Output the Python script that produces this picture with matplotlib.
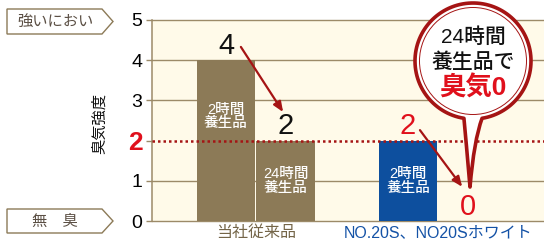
import matplotlib.pyplot as plt
from matplotlib.patches import Polygon, Circle, PathPatch
from matplotlib.path import Path
import numpy as np

plt.rcParams['font.family'] = ['Liberation Sans', 'Noto Sans CJK JP', 'DejaVu Sans']

# --- data -------------------------------------------------------------------
values = [4, 2, 2, 0]
bar_texts = ["2時間\n養生品", "24時間\n養生品", "2時間\n養生品", ""]
value_texts = ["4", "2", "2", "0"]
group_labels = ["当社従来品", "NO.20S、NO20Sホワイト"]
y_ticks = [0, 1, 2, 3, 4, 5]
y_label = "臭気強度"
top_box = "強いにおい"
bottom_box = "無\u3000臭"
balloon_lines = ["24時間", "養生品で", "臭気0"]

# --- style ------------------------------------------------------------------
BG = "#fffae9"
BROWN = "#8c7a57"
BLUE = "#0d4f9e"
RED = "#e0101c"
DARK_RED = "#a51414"
GRID = "#9c8a68"
x_pos = [0, 1, 3.06, 4.06]
bar_colors = [BROWN, BROWN, BLUE, BLUE]
value_colors = ["#111111", "#111111", RED, RED]

fig = plt.figure(figsize=(5.44, 2.46), dpi=100)
ax = fig.add_axes([152 / 544, 25 / 246, 392 / 544, 201 / 246])
ax.set_facecolor(BG)
ax.set_xlim(-1.244, 5.345)
ax.set_ylim(0, 5)

for y in y_ticks:
    if y == 2:
        continue
    ax.axhline(y, color=GRID, lw=1.0, zorder=1, clip_on=False)
ax.axhline(2, color=DARK_RED, lw=1.8, ls=(0, (1, 1.2)), zorder=4)

ax.bar(x_pos, values, width=0.98, color=bar_colors, zorder=2)

for x, v, t in zip(x_pos, values, bar_texts):
    if t:
        ax.text(x, v / 2 if v < 3 else 2.6, t, ha="center", va="center",
                color="white", fontsize=10.5, fontweight="medium",
                linespacing=1.0, zorder=5)

for x, v, t, c in zip(x_pos, values, value_texts, value_colors):
    ax.text(x, v + 0.36, t, ha="center", va="center", color=c,
            fontsize=21, zorder=5)

# arrows between value labels
arrow_pairs = [(0, 1, (0.25, 0.33), (-0.04, 0.71)), (2, 3, (0.2, 0.26), (-0.09, 0.85))]
for i, j, s, e in arrow_pairs:
    ax.annotate("", xy=(x_pos[j] + e[0], values[j] + e[1]),
                xytext=(x_pos[i] + s[0], values[i] + s[1]),
                arrowprops=dict(arrowstyle="-|>,head_length=0.6,head_width=0.25",
                                color=DARK_RED, lw=1.6, shrinkA=0, shrinkB=0),
                zorder=6)

for s in ["top", "right", "bottom"]:
    ax.spines[s].set_visible(False)
ax.spines["left"].set_color(GRID)
ax.spines["left"].set_linewidth(1.1)
ax.set_yticks(y_ticks)
ax.set_yticklabels([str(t) for t in y_ticks])
ax.tick_params(axis="y", length=4, width=1, color=GRID, pad=3, labelsize=14)
for lbl in ax.get_yticklabels():
    if lbl.get_text() == "2":
        lbl.set_color(RED)
        lbl.set_fontweight("bold")
        lbl.set_fontsize(19)
ax.set_xticks([(x_pos[0] + x_pos[1]) / 2, (x_pos[2] + x_pos[3]) / 2])
ax.set_xticklabels(group_labels, fontsize=11.5)
ax.tick_params(axis="x", length=0, pad=3)
ax.get_xticklabels()[0].set_color("#746548")
ax.get_xticklabels()[1].set_color("#1452a6")

fig.text(100 / 544, 1 - 123 / 246, y_label, rotation=90, ha="center",
         va="center", fontsize=11, color="#111111")

# --- overlay in pixel coordinates ---------------------------------------------
ov = fig.add_axes([0, 0, 1, 1], zorder=10)
ov.set_xlim(0, 544)
ov.set_ylim(246, 0)
ov.axis("off")
ov.patch.set_alpha(0)


def tag(y0, y1, text):
    ym = (y0 + y1) / 2
    ov.add_patch(Polygon([(7, y0), (102, y0), (113, ym), (102, y1), (7, y1)],
                         closed=True, facecolor="white", edgecolor=BROWN, lw=1))
    ov.text(55, ym + 0.5, text, ha="center", va="center", fontsize=11,
            color="#5b4f44")


tag(9, 34, top_box)
tag(209, 233, bottom_box)

# speech balloon
cx, cy, r = 473, 61, 58
tip = (470, 187)
a1, a2 = np.deg2rad(81), np.deg2rad(99)
t = np.linspace(a1, a2 - 2 * np.pi, 120)
arc = np.column_stack([cx + r * np.cos(t), cy + r * np.sin(t)])
right = (cx + r * np.cos(a1), cy + r * np.sin(a1))
verts = [tip, (tip[0] + 4, 140), right] + [tuple(p) for p in arc] + [(tip[0] - 4, 140), tip, tip]
codes = [Path.MOVETO, Path.CURVE3, Path.CURVE3] + [Path.LINETO] * len(arc) + \
        [Path.CURVE3, Path.CURVE3, Path.CLOSEPOLY]
ov.add_patch(PathPatch(Path(verts, codes), facecolor="white", edgecolor=DARK_RED,
                       lw=2.6, joinstyle="round"))
ov.add_patch(Circle((cx, cy), r - 4.5, facecolor="none", edgecolor=DARK_RED, lw=0.7))

ov.text(cx, 37, balloon_lines[0], ha="center", va="center", fontsize=15,
        color="#111111", fontweight="medium")
ov.text(cx, 62, balloon_lines[1], ha="center", va="center", fontsize=15,
        color="#111111", fontweight="medium")
ov.text(cx, 88, balloon_lines[2], ha="center", va="center", fontsize=19, color=RED,
        fontweight="bold")

fig.savefig("out.png", dpi=100)
